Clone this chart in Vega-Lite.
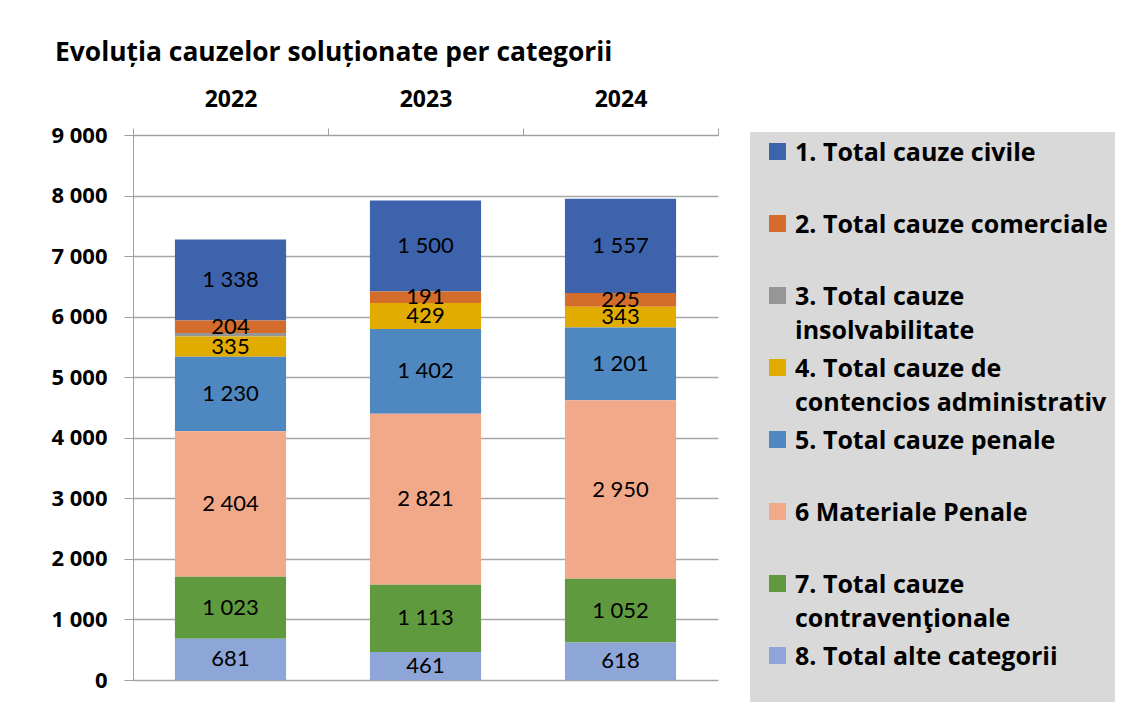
{
  "$schema": "https://vega.github.io/schema/vega-lite/v6.json",
  "width": 585,
  "height": 545,
  "autosize": {"type": "none"},
  "padding": {"left": 133, "top": 135, "right": 422, "bottom": 22},
  "background": "white",
  "config": {
    "locale": {"number": {"decimal": ",", "thousands": " ", "grouping": [3], "currency": ["", ""]}},
    "view": {"stroke": null},
    "font": "Open Sans"
  },
  "title": {
    "text": "Evoluția cauzelor soluționate per categorii",
    "anchor": "start",
    "frame": "group",
    "font": "Open Sans",
    "fontSize": 26.4,
    "fontWeight": "bold",
    "color": "black",
    "dx": -78,
    "offset": 22
  },
  "data": {
    "values": [
      {"year": "2022", "cat": "1. Total cauze civile", "ord": 1, "v": 1338},
      {"year": "2022", "cat": "2. Total cauze comerciale", "ord": 2, "v": 204},
      {"year": "2022", "cat": "3. Total cauze insolvabilitate", "ord": 3, "v": 58},
      {"year": "2022", "cat": "4. Total cauze de contencios administrativ", "ord": 4, "v": 335},
      {"year": "2022", "cat": "5. Total cauze penale", "ord": 5, "v": 1230},
      {"year": "2022", "cat": "6 Materiale Penale", "ord": 6, "v": 2404},
      {"year": "2022", "cat": "7. Total cauze contravenţionale", "ord": 7, "v": 1023},
      {"year": "2022", "cat": "8. Total alte categorii", "ord": 8, "v": 681},
      {"year": "2023", "cat": "1. Total cauze civile", "ord": 1, "v": 1500},
      {"year": "2023", "cat": "2. Total cauze comerciale", "ord": 2, "v": 191},
      {"year": "2023", "cat": "3. Total cauze insolvabilitate", "ord": 3, "v": 0},
      {"year": "2023", "cat": "4. Total cauze de contencios administrativ", "ord": 4, "v": 429},
      {"year": "2023", "cat": "5. Total cauze penale", "ord": 5, "v": 1402},
      {"year": "2023", "cat": "6 Materiale Penale", "ord": 6, "v": 2821},
      {"year": "2023", "cat": "7. Total cauze contravenţionale", "ord": 7, "v": 1113},
      {"year": "2023", "cat": "8. Total alte categorii", "ord": 8, "v": 461},
      {"year": "2024", "cat": "1. Total cauze civile", "ord": 1, "v": 1557},
      {"year": "2024", "cat": "2. Total cauze comerciale", "ord": 2, "v": 225},
      {"year": "2024", "cat": "3. Total cauze insolvabilitate", "ord": 3, "v": 0},
      {"year": "2024", "cat": "4. Total cauze de contencios administrativ", "ord": 4, "v": 343},
      {"year": "2024", "cat": "5. Total cauze penale", "ord": 5, "v": 1201},
      {"year": "2024", "cat": "6 Materiale Penale", "ord": 6, "v": 2950},
      {"year": "2024", "cat": "7. Total cauze contravenţionale", "ord": 7, "v": 1052},
      {"year": "2024", "cat": "8. Total alte categorii", "ord": 8, "v": 618}
    ]
  },
  "encoding": {
    "x": {
      "field": "year",
      "type": "nominal",
      "title": null,
      "scale": {"paddingInner": 0, "paddingOuter": 0},
      "axis": {
        "orient": "top",
        "tickBand": "extent",
        "labelAngle": 0,
        "labelFont": "Open Sans",
        "labelFontSize": 23,
        "labelFontWeight": "bold",
        "labelColor": "black",
        "labelPadding": 17,
        "tickSize": 7,
        "tickColor": "#a0a0a0",
        "domainColor": "#a0a0a0",
        "grid": false
      }
    }
  },
  "layer": [
    {
      "mark": {"type": "bar", "width": {"band": 0.57}},
      "encoding": {
        "y": {
          "field": "v",
          "type": "quantitative",
          "stack": "zero",
          "title": null,
          "scale": {"domain": [0, 9000], "nice": false},
          "axis": {
            "tickCount": 9,
            "labelExpr": "replace(format(datum.value, ',d'), ',', ' ')",
            "labelFont": "Open Sans",
            "labelFontSize": 22,
            "labelFontWeight": "bold",
            "labelColor": "black",
            "labelPadding": 17,
            "tickSize": 9,
            "tickColor": "#a0a0a0",
            "domainColor": "#a0a0a0",
            "grid": true,
            "gridColor": "#a6a6a6",
            "gridWidth": 1.3
          }
        },
        "color": {
          "field": "cat",
          "type": "nominal",
          "scale": {
            "domain": [
              "1. Total cauze civile",
              "2. Total cauze comerciale",
              "3. Total cauze insolvabilitate",
              "4. Total cauze de contencios administrativ",
              "5. Total cauze penale",
              "6 Materiale Penale",
              "7. Total cauze contravenţionale",
              "8. Total alte categorii"
            ],
            "range": ["#3e63ad", "#d46c2b", "#969696", "#e2ab00", "#4f88c0", "#f2a98a", "#5f9a3f", "#8ea5d8"]
          },
          "legend": {
            "title": null,
            "orient": "none",
            "legendX": 617,
            "legendY": -3,
            "fillColor": "#d9d9d9",
            "padding": 7,
            "symbolType": "square",
            "symbolSize": 289,
            "symbolStrokeWidth": 0,
            "symbolOffset": 8,
            "labelOffset": 5,
            "labelFont": "Open Sans",
            "labelFontSize": 25,
            "labelFontWeight": "bold",
            "labelColor": "black",
            "labelBaseline": "top",
            "labelLimit": 400,
            "rowPadding": 11,
            "labelExpr": "datum.label == '3. Total cauze insolvabilitate' ? ['3. Total cauze', 'insolvabilitate'] : datum.label == '4. Total cauze de contencios administrativ' ? ['4. Total cauze de', 'contencios administrativ'] : datum.label == '7. Total cauze contravenţionale' ? ['7. Total cauze', 'contravenţionale'] : [datum.label, '']",
            "encode": {"labels": {"update": {"lineHeight": {"value": 34}, "dy": {"value": -11}}}}
          }
        },
        "order": {"field": "ord", "sort": "descending"}
      }
    },
    {
      "mark": {"type": "text", "font": "Lato", "fontSize": 22, "color": "black", "baseline": "middle"},
      "encoding": {
        "y": {"field": "v", "type": "quantitative", "stack": "zero", "bandPosition": 0.5},
        "detail": {"field": "cat"},
        "order": {"field": "ord", "sort": "descending"},
        "text": {"condition": {"test": "datum.v < 100", "value": ""}, "field": "v", "type": "quantitative", "format": ","}
      }
    }
  ]
}
